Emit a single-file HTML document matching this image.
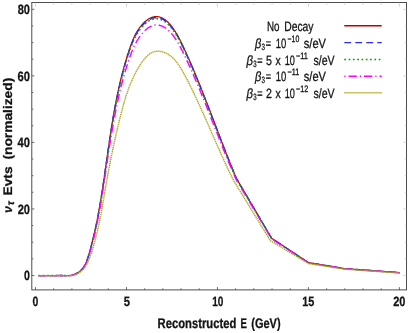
<!DOCTYPE html><html><head><meta charset="utf-8"><style>html,body{margin:0;padding:0;background:#fff}svg{display:block}text{font-family:"Liberation Sans",sans-serif;text-rendering:geometricPrecision}</style></head><body>
<svg width="409" height="333" viewBox="0 0 409 333">
<rect width="409" height="333" fill="#fff"/>
<path d="M38.5,275.60 L46.0,275.60 L55.0,275.60 L62.0,275.50 L62.9,275.60 L63.9,275.60 L64.9,275.60 L65.9,275.60 L66.9,275.60 L68.0,275.60 L69.1,275.60 L70.1,275.60 L71.2,275.41 L72.2,275.14 L73.3,274.83 L74.3,274.47 L75.3,274.06 L76.2,273.61 L77.2,273.13 L78.1,272.60 L78.9,272.04 L79.7,271.45 L80.5,270.82 L81.2,270.15 L81.8,269.46 L82.5,268.74 L83.0,267.99 L83.6,267.22 L84.1,266.42 L84.6,265.61 L85.1,264.77 L85.5,263.91 L85.9,263.03 L86.3,262.14 L86.7,261.23 L87.0,260.32 L87.3,259.39 L87.7,258.45 L88.0,257.50 L88.3,256.55 L88.5,255.59 L88.8,254.63 L89.1,253.67 L89.4,252.71 L89.7,251.75 L89.9,250.78 L90.2,249.82 L90.5,248.85 L90.7,247.89 L91.0,246.92 L91.2,245.95 L91.5,244.98 L91.7,244.01 L92.0,243.04 L92.2,242.07 L92.5,241.10 L92.7,240.13 L93.0,239.16 L93.2,238.18 L93.4,237.21 L93.7,236.23 L93.9,235.25 L94.1,234.28 L94.3,233.30 L94.6,232.32 L94.8,231.34 L95.0,230.36 L95.2,229.38 L95.4,228.40 L95.6,227.42 L95.8,226.44 L96.1,225.46 L96.3,224.47 L96.5,223.49 L96.7,222.51 L96.9,221.52 L97.1,220.54 L97.3,219.55 L97.4,218.57 L97.6,217.58 L97.8,216.59 L98.0,215.61 L98.2,214.62 L98.4,213.63 L98.6,212.64 L98.7,211.65 L98.9,210.66 L99.1,209.67 L99.3,208.68 L99.5,207.69 L99.6,206.70 L99.8,205.71 L100.0,204.72 L100.1,203.73 L100.3,202.74 L100.5,201.75 L100.6,200.76 L100.8,199.76 L101.0,198.77 L101.1,197.78 L101.3,196.79 L101.4,195.79 L101.6,194.80 L101.8,193.81 L101.9,192.81 L102.1,191.82 L102.2,190.83 L102.4,189.83 L102.5,188.84 L102.7,187.84 L102.8,186.85 L103.0,185.86 L103.1,184.86 L103.3,183.87 L103.4,182.88 L103.6,181.88 L103.7,180.89 L103.9,179.89 L104.0,178.90 L104.2,177.91 L104.3,176.91 L104.4,175.92 L104.6,174.92 L104.7,173.93 L104.9,172.94 L105.0,171.94 L105.2,170.95 L105.3,169.96 L105.4,168.96 L105.6,167.97 L105.7,166.98 L105.9,165.98 L106.0,164.99 L106.1,164.00 L106.3,163.01 L106.4,162.01 L106.6,161.02 L106.7,160.03 L106.8,159.03 L107.0,158.04 L107.1,157.05 L107.3,156.06 L107.4,155.07 L107.5,154.07 L107.7,153.08 L107.8,152.09 L108.0,151.10 L108.1,150.11 L108.2,149.12 L108.4,148.12 L108.5,147.13 L108.7,146.14 L108.8,145.15 L109.0,144.16 L109.1,143.17 L109.3,142.18 L109.4,141.19 L109.5,140.20 L109.7,139.21 L109.8,138.22 L110.0,137.23 L110.1,136.24 L110.3,135.25 L110.4,134.26 L110.6,133.27 L110.7,132.28 L110.9,131.30 L111.0,130.31 L111.2,129.32 L111.3,128.33 L111.5,127.34 L111.7,126.36 L111.8,125.37 L112.0,124.38 L112.1,123.39 L112.3,122.41 L112.5,121.42 L112.6,120.43 L112.8,119.45 L112.9,118.46 L113.1,117.48 L113.3,116.49 L113.4,115.51 L113.6,114.52 L113.8,113.54 L114.0,112.55 L114.1,111.57 L114.3,110.58 L114.5,109.60 L114.7,108.62 L114.8,107.63 L115.0,106.65 L115.2,105.67 L115.4,104.69 L115.6,103.70 L115.8,102.72 L116.0,101.74 L116.1,100.76 L116.3,99.78 L116.5,98.80 L116.7,97.82 L116.9,96.84 L117.1,95.86 L117.3,94.88 L117.5,93.90 L117.7,92.92 L117.9,91.94 L118.2,90.96 L118.4,89.99 L118.6,89.01 L118.8,88.03 L119.0,87.05 L119.2,86.08 L119.5,85.10 L119.7,84.12 L119.9,83.15 L120.1,82.17 L120.4,81.20 L120.6,80.22 L120.8,79.25 L121.1,78.28 L121.3,77.30 L121.5,76.33 L121.8,75.36 L122.0,74.39 L122.3,73.41 L122.5,72.44 L122.8,71.47 L123.1,70.50 L123.3,69.53 L123.6,68.56 L123.8,67.59 L124.1,66.62 L124.4,65.65 L124.7,64.68 L124.9,63.72 L125.2,62.75 L125.5,61.78 L125.8,60.81 L126.1,59.85 L126.4,58.88 L126.7,57.92 L126.9,56.95 L127.2,55.99 L127.5,55.02 L127.9,54.06 L128.2,53.09 L128.5,52.13 L128.8,51.17 L129.1,50.21 L129.4,49.25 L129.8,48.29 L130.1,47.33 L130.4,46.37 L130.8,45.41 L131.1,44.46 L131.5,43.51 L131.8,42.56 L132.2,41.62 L132.6,40.68 L133.0,39.74 L133.4,38.81 L133.8,37.89 L134.2,36.97 L134.6,36.06 L135.1,35.16 L135.5,34.26 L136.0,33.37 L136.5,32.49 L137.0,31.62 L137.5,30.76 L138.1,29.90 L138.7,29.06 L139.2,28.23 L139.8,27.41 L140.5,26.60 L141.1,25.80 L141.8,25.02 L142.5,24.25 L143.2,23.50 L143.9,22.77 L144.6,22.06 L145.4,21.39 L146.2,20.75 L147.0,20.14 L147.8,19.56 L148.6,19.03 L149.4,18.55 L150.3,18.11 L151.1,17.72 L152.0,17.38 L152.9,17.10 L153.8,16.89 L154.7,16.73 L155.5,16.64 L156.4,16.62 L157.4,16.67 L158.3,16.79 L159.2,16.98 L160.1,17.22 L160.9,17.52 L161.8,17.88 L162.7,18.30 L163.5,18.76 L164.4,19.27 L165.2,19.83 L165.9,20.43 L166.7,21.06 L167.4,21.73 L168.2,22.43 L168.8,23.15 L169.5,23.89 L170.2,24.65 L170.8,25.42 L171.5,26.20 L172.1,26.99 L172.7,27.79 L173.3,28.61 L173.8,29.43 L174.4,30.26 L175.0,31.10 L175.5,31.95 L176.0,32.81 L176.6,33.67 L177.1,34.55 L177.6,35.42 L178.1,36.31 L178.6,37.20 L179.0,38.10 L179.5,39.00 L180.0,39.90 L180.4,40.81 L180.9,41.72 L181.3,42.64 L181.8,43.56 L182.2,44.48 L182.7,45.40 L183.1,46.32 L183.5,47.25 L184.0,48.17 L184.4,49.10 L184.8,50.02 L185.2,50.95 L185.7,51.87 L186.1,52.80 L186.5,53.72 L186.9,54.65 L187.3,55.58 L187.7,56.50 L188.2,57.43 L188.6,58.35 L189.0,59.28 L189.4,60.20 L189.8,61.13 L190.2,62.06 L190.6,62.98 L191.0,63.91 L191.4,64.84 L191.8,65.76 L192.2,66.69 L192.6,67.62 L193.0,68.54 L193.4,69.47 L193.8,70.40 L194.2,71.32 L194.5,72.25 L194.9,73.18 L195.3,74.11 L195.7,75.03 L196.1,75.96 L196.5,76.89 L196.9,77.82 L197.2,78.74 L197.6,79.67 L198.0,80.60 L198.4,81.53 L198.8,82.46 L199.1,83.38 L199.5,84.31 L199.9,85.24 L200.3,86.17 L200.6,87.10 L201.0,88.03 L201.4,88.96 L201.7,89.88 L202.1,90.81 L202.5,91.74 L202.8,92.67 L203.2,93.60 L203.6,94.53 L203.9,95.46 L204.3,96.39 L204.7,97.32 L205.0,98.25 L205.4,99.18 L205.8,100.11 L206.1,101.04 L206.5,101.97 L206.9,102.90 L207.2,103.83 L207.6,104.76 L207.9,105.69 L208.3,106.62 L208.6,107.55 L209.0,108.48 L209.4,109.41 L209.7,110.34 L210.1,111.27 L210.4,112.20 L210.8,113.13 L211.2,114.06 L211.5,114.99 L211.9,115.92 L212.2,116.85 L212.6,117.78 L212.9,118.71 L213.3,119.64 L213.6,120.58 L214.0,121.51 L214.4,122.44 L214.7,123.37 L215.1,124.30 L215.4,125.23 L215.8,126.16 L216.1,127.10 L216.5,128.03 L216.8,128.96 L217.2,129.89 L217.6,130.82 L217.9,131.75 L218.3,132.69 L218.6,133.62 L219.0,134.55 L219.3,135.48 L219.7,136.41 L220.0,137.35 L220.4,138.28 L220.8,139.21 L221.1,140.14 L221.5,141.07 L221.8,142.01 L222.2,142.94 L222.6,143.87 L222.9,144.80 L223.3,145.74 L223.6,146.67 L224.0,147.60 L224.4,148.53 L224.7,149.47 L225.1,150.40 L225.5,151.33 L225.8,152.27 L226.2,153.20 L226.6,154.13 L226.9,155.06 L227.3,156.00 L227.7,156.93 L228.0,157.86 L228.4,158.80 L228.8,159.73 L229.1,160.66 L229.5,161.60 L229.9,162.53 L230.3,163.46 L230.6,164.40 L231.0,165.33 L231.4,166.26 L231.8,167.20 L232.2,168.13 L232.5,169.06 L232.9,170.00 L233.3,170.93 L233.7,171.86 L234.1,172.80 L234.5,173.73 L234.8,174.67 L235.2,175.60 L235.6,176.53 L236.0,177.47 L236.4,178.40 L271.6,238.20 L308.3,262.60 L344.3,268.60 L399.6,272.70" fill="none" stroke="#c00000" stroke-width="1.25" stroke-linejoin="round"/>
<path d="M38.5,275.60 L39.0,275.60 L39.5,275.60 L40.0,275.60 L40.5,275.60 L41.0,275.60 L41.5,275.60 L42.0,275.60 L42.5,275.60 L43.0,275.60 L43.5,275.60 L44.0,275.60 L44.5,275.60 L45.0,275.60 L45.5,275.60 L46.0,275.60 L46.5,275.60 L47.0,275.60 L47.5,275.60 L48.0,275.60 L48.5,275.60 L49.0,275.60 L49.5,275.60 L50.0,275.60 L50.5,275.60 L51.0,275.60 L51.5,275.60 L52.0,275.60 L52.5,275.60 L53.0,275.60 L53.5,275.60 L54.0,275.60 L54.5,275.60 L55.0,275.60 L55.5,275.59 L56.0,275.59 L56.5,275.58 L57.0,275.57 L57.5,275.56 L58.0,275.56 L58.5,275.55 L59.0,275.54 L59.5,275.54 L60.0,275.53 L60.5,275.52 L61.0,275.51 L61.5,275.51 L62.0,275.50 L62.5,275.55 L63.0,275.60 L63.5,275.60 L64.0,275.60 L64.5,275.60 L65.0,275.60 L65.5,275.60 L66.0,275.60 L66.5,275.60 L67.0,275.60 L67.5,275.60 L68.0,275.60 L68.5,275.60 L69.0,275.60 L69.5,275.60 L70.0,275.60 L70.5,275.54 L71.0,275.45 L71.5,275.34 L72.0,275.22 L72.5,275.08 L73.0,274.92 L73.5,274.76 L74.0,274.58 L74.5,274.40 L75.0,274.19 L75.5,273.98 L76.0,273.75 L76.5,273.50 L77.0,273.24 L77.5,272.96 L78.0,272.67 L78.5,272.34 L79.0,272.00 L79.5,271.63 L80.0,271.23 L80.5,270.81 L81.0,270.34 L81.5,269.84 L82.0,269.30 L82.5,268.72 L83.0,268.09 L83.5,267.40 L84.0,266.66 L84.5,265.84 L85.0,264.95 L85.5,263.98 L86.0,262.90 L86.5,261.72 L87.0,260.44 L87.5,259.03 L88.0,257.52 L88.5,255.90 L89.0,254.22 L89.5,252.49 L90.0,250.73 L90.5,248.93 L91.0,247.08 L91.5,245.20 L92.0,243.27 L92.5,241.29 L93.0,239.27 L93.5,237.20 L94.0,235.08 L94.5,232.90 L95.0,230.68 L95.5,228.39 L96.0,226.05 L96.5,223.64 L97.0,221.17 L97.5,218.64 L98.0,216.04 L98.5,213.37 L99.0,210.64 L99.5,207.83 L100.0,204.95 L100.5,202.00 L101.0,198.98 L101.5,195.89 L102.0,192.73 L102.5,189.51 L103.0,186.23 L103.5,182.89 L104.0,179.50 L104.5,176.07 L105.0,172.61 L105.5,169.12 L106.0,165.61 L106.5,162.08 L107.0,158.56 L107.5,155.05 L108.0,151.55 L108.5,148.08 L109.0,144.64 L109.5,141.25 L110.0,137.90 L110.5,134.60 L111.0,131.36 L111.5,128.18 L112.0,125.06 L112.5,122.01 L113.0,119.02 L113.5,116.10 L114.0,113.25 L114.5,110.46 L115.0,107.74 L115.5,105.08 L116.0,102.49 L116.5,99.95 L117.0,97.48 L117.5,95.06 L118.0,92.70 L118.5,90.39 L119.0,88.14 L119.5,85.94 L120.0,83.78 L120.5,81.67 L121.0,79.61 L121.5,77.59 L122.0,75.61 L122.5,73.68 L123.0,71.78 L123.5,69.92 L124.0,68.10 L124.5,66.31 L125.0,64.56 L125.5,62.84 L126.0,61.15 L126.5,59.50 L127.0,57.87 L127.5,56.27 L128.0,54.70 L128.5,53.16 L129.0,51.64 L129.5,50.15 L130.0,48.69 L130.5,47.26 L131.0,45.88 L131.5,44.53 L132.0,43.24 L132.5,41.99 L133.0,40.79 L133.5,39.64 L134.0,38.54 L134.5,37.48 L135.0,36.46 L135.5,35.49 L136.0,34.56 L136.5,33.66 L137.0,32.81 L137.5,31.99 L138.0,31.20 L138.5,30.44 L139.0,29.71 L139.5,29.01 L140.0,28.34 L140.5,27.69 L141.0,27.06 L141.5,26.46 L142.0,25.88 L142.5,25.32 L143.0,24.79 L143.5,24.27 L144.0,23.77 L144.5,23.29 L145.0,22.84 L145.5,22.40 L146.0,21.98 L146.5,21.58 L147.0,21.20 L147.5,20.84 L148.0,20.50 L148.5,20.17 L149.0,19.87 L149.5,19.58 L150.0,19.32 L150.5,19.07 L151.0,18.84 L151.5,18.64 L152.0,18.44 L152.5,18.28 L153.0,18.13 L153.5,18.00 L154.0,17.89 L154.5,17.80 L155.0,17.74 L155.5,17.69 L156.0,17.67 L156.5,17.67 L157.0,17.69 L157.5,17.73 L158.0,17.79 L158.5,17.87 L159.0,17.97 L159.5,18.10 L160.0,18.23 L160.5,18.39 L161.0,18.57 L161.5,18.77 L162.0,18.98 L162.5,19.22 L163.0,19.48 L163.5,19.75 L164.0,20.05 L164.5,20.37 L165.0,20.71 L165.5,21.07 L166.0,21.45 L166.5,21.87 L167.0,22.30 L167.5,22.76 L168.0,23.24 L168.5,23.74 L169.0,24.26 L169.5,24.81 L170.0,25.37 L170.5,25.95 L171.0,26.55 L171.5,27.16 L172.0,27.80 L172.5,28.46 L173.0,29.13 L173.5,29.82 L174.0,30.54 L174.5,31.27 L175.0,32.02 L175.5,32.80 L176.0,33.60 L176.5,34.42 L177.0,35.26 L177.5,36.12 L178.0,37.01 L178.5,37.91 L179.0,38.84 L179.5,39.79 L180.0,40.75 L180.5,41.74 L181.0,42.74 L181.5,43.76 L182.0,44.79 L182.5,45.84 L183.0,46.89 L183.5,47.96 L184.0,49.03 L184.5,50.11 L185.0,51.20 L185.5,52.29 L186.0,53.38 L186.5,54.48 L187.0,55.59 L187.5,56.70 L188.0,57.82 L188.5,58.94 L189.0,60.07 L189.5,61.20 L190.0,62.34 L190.5,63.48 L191.0,64.63 L191.5,65.79 L192.0,66.95 L192.5,68.11 L193.0,69.28 L193.5,70.46 L194.0,71.64 L194.5,72.82 L195.0,74.01 L195.5,75.21 L196.0,76.40 L196.5,77.61 L197.0,78.82 L197.5,80.03 L198.0,81.25 L198.5,82.47 L199.0,83.70 L199.5,84.93 L200.0,86.16 L200.5,87.40 L201.0,88.65 L201.5,89.90 L202.0,91.15 L202.5,92.40 L203.0,93.66 L203.5,94.92 L204.0,96.19 L204.5,97.46 L205.0,98.73 L205.5,100.00 L206.0,101.28 L206.5,102.56 L207.0,103.85 L207.5,105.13 L208.0,106.42 L208.5,107.71 L209.0,109.00 L209.5,110.30 L210.0,111.59 L210.5,112.89 L211.0,114.19 L211.5,115.49 L212.0,116.79 L212.5,118.09 L213.0,119.40 L213.5,120.70 L214.0,122.01 L214.5,123.31 L215.0,124.62 L215.5,125.92 L216.0,127.23 L216.5,128.53 L217.0,129.84 L217.5,131.14 L218.0,132.45 L218.5,133.75 L219.0,135.05 L219.5,136.35 L220.0,137.65 L220.5,138.95 L221.0,140.24 L221.5,141.53 L222.0,142.83 L222.5,144.12 L223.0,145.40 L223.5,146.69 L224.0,147.97 L224.5,149.25 L225.0,150.53 L225.5,151.80 L226.0,153.07 L226.5,154.34 L227.0,155.60 L227.5,156.86 L228.0,158.12 L228.5,159.37 L229.0,160.62 L229.5,161.87 L230.0,163.11 L230.5,164.35 L231.0,165.59 L231.5,166.82 L232.0,168.04 L232.5,169.26 L233.0,170.48 L233.5,171.69 L234.0,172.90 L234.5,174.09 L235.0,175.29 L235.5,176.48 L236.4,178.60 L271.6,238.30 L308.3,262.63 L344.3,268.62 L399.6,272.71" fill="none" stroke="#2a2aff" stroke-width="1.4" stroke-dasharray="6.8,4.2" stroke-linejoin="round"/>
<path d="M38.5,275.60 L39.0,275.60 L39.5,275.60 L40.0,275.60 L40.5,275.60 L41.0,275.60 L41.5,275.60 L42.0,275.60 L42.5,275.60 L43.0,275.60 L43.5,275.60 L44.0,275.60 L44.5,275.60 L45.0,275.60 L45.5,275.60 L46.0,275.60 L46.5,275.60 L47.0,275.60 L47.5,275.60 L48.0,275.60 L48.5,275.60 L49.0,275.60 L49.5,275.60 L50.0,275.60 L50.5,275.60 L51.0,275.60 L51.5,275.60 L52.0,275.60 L52.5,275.60 L53.0,275.60 L53.5,275.60 L54.0,275.60 L54.5,275.60 L55.0,275.60 L55.5,275.59 L56.0,275.59 L56.5,275.58 L57.0,275.57 L57.5,275.56 L58.0,275.56 L58.5,275.55 L59.0,275.54 L59.5,275.54 L60.0,275.53 L60.5,275.52 L61.0,275.52 L61.5,275.51 L62.0,275.50 L62.5,275.55 L63.0,275.60 L63.5,275.60 L64.0,275.60 L64.5,275.60 L65.0,275.60 L65.5,275.60 L66.0,275.60 L66.5,275.60 L67.0,275.60 L67.5,275.60 L68.0,275.60 L68.5,275.60 L69.0,275.60 L69.5,275.60 L70.0,275.60 L70.5,275.54 L71.0,275.46 L71.5,275.35 L72.0,275.23 L72.5,275.09 L73.0,274.94 L73.5,274.78 L74.0,274.60 L74.5,274.41 L75.0,274.21 L75.5,274.00 L76.0,273.77 L76.5,273.52 L77.0,273.26 L77.5,272.98 L78.0,272.69 L78.5,272.36 L79.0,272.03 L79.5,271.65 L80.0,271.26 L80.5,270.84 L81.0,270.37 L81.5,269.88 L82.0,269.34 L82.5,268.77 L83.0,268.14 L83.5,267.45 L84.0,266.71 L84.5,265.90 L85.0,265.02 L85.5,264.05 L86.0,262.99 L86.5,261.82 L87.0,260.55 L87.5,259.15 L88.0,257.66 L88.5,256.05 L89.0,254.39 L89.5,252.67 L90.0,250.92 L90.5,249.13 L91.0,247.30 L91.5,245.42 L92.0,243.51 L92.5,241.54 L93.0,239.53 L93.5,237.47 L94.0,235.36 L94.5,233.20 L95.0,230.99 L95.5,228.71 L96.0,226.38 L96.5,223.99 L97.0,221.53 L97.5,219.01 L98.0,216.42 L98.5,213.77 L99.0,211.04 L99.5,208.25 L100.0,205.38 L100.5,202.44 L101.0,199.43 L101.5,196.36 L102.0,193.21 L102.5,190.00 L103.0,186.73 L103.5,183.41 L104.0,180.04 L104.5,176.62 L105.0,173.17 L105.5,169.70 L106.0,166.21 L106.5,162.71 L107.0,159.21 L107.5,155.72 L108.0,152.24 L108.5,148.79 L109.0,145.38 L109.5,142.01 L110.0,138.68 L110.5,135.41 L111.0,132.19 L111.5,129.03 L112.0,125.93 L112.5,122.90 L113.0,119.93 L113.5,117.03 L114.0,114.19 L114.5,111.42 L115.0,108.71 L115.5,106.06 L116.0,103.48 L116.5,100.96 L117.0,98.49 L117.5,96.08 L118.0,93.73 L118.5,91.43 L119.0,89.18 L119.5,86.99 L120.0,84.84 L120.5,82.73 L121.0,80.67 L121.5,78.65 L122.0,76.68 L122.5,74.74 L123.0,72.85 L123.5,70.99 L124.0,69.17 L124.5,67.39 L125.0,65.64 L125.5,63.92 L126.0,62.23 L126.5,60.58 L127.0,58.96 L127.5,57.37 L128.0,55.80 L128.5,54.26 L129.0,52.75 L129.5,51.27 L130.0,49.81 L130.5,48.39 L131.0,47.01 L131.5,45.67 L132.0,44.38 L132.5,43.14 L133.0,41.94 L133.5,40.79 L134.0,39.69 L134.5,38.63 L135.0,37.62 L135.5,36.65 L136.0,35.71 L136.5,34.82 L137.0,33.96 L137.5,33.14 L138.0,32.35 L138.5,31.59 L139.0,30.86 L139.5,30.15 L140.0,29.48 L140.5,28.82 L141.0,28.19 L141.5,27.59 L142.0,27.00 L142.5,26.44 L143.0,25.90 L143.5,25.38 L144.0,24.87 L144.5,24.39 L145.0,23.93 L145.5,23.49 L146.0,23.07 L146.5,22.67 L147.0,22.28 L147.5,21.92 L148.0,21.57 L148.5,21.24 L149.0,20.94 L149.5,20.65 L150.0,20.38 L150.5,20.13 L151.0,19.90 L151.5,19.69 L152.0,19.50 L152.5,19.33 L153.0,19.18 L153.5,19.05 L154.0,18.94 L154.5,18.85 L155.0,18.79 L155.5,18.73 L156.0,18.72 L156.5,18.71 L157.0,18.73 L157.5,18.77 L158.0,18.83 L158.5,18.91 L159.0,19.00 L159.5,19.12 L160.0,19.26 L160.5,19.42 L161.0,19.59 L161.5,19.79 L162.0,20.00 L162.5,20.23 L163.0,20.48 L163.5,20.75 L164.0,21.05 L164.5,21.36 L165.0,21.70 L165.5,22.06 L166.0,22.44 L166.5,22.84 L167.0,23.27 L167.5,23.72 L168.0,24.20 L168.5,24.69 L169.0,25.21 L169.5,25.74 L170.0,26.30 L170.5,26.88 L171.0,27.47 L171.5,28.08 L172.0,28.71 L172.5,29.36 L173.0,30.02 L173.5,30.71 L174.0,31.42 L174.5,32.15 L175.0,32.89 L175.5,33.66 L176.0,34.46 L176.5,35.27 L177.0,36.11 L177.5,36.96 L178.0,37.84 L178.5,38.74 L179.0,39.66 L179.5,40.60 L180.0,41.56 L180.5,42.54 L181.0,43.54 L181.5,44.55 L182.0,45.58 L182.5,46.62 L183.0,47.67 L183.5,48.73 L184.0,49.80 L184.5,50.87 L185.0,51.95 L185.5,53.04 L186.0,54.13 L186.5,55.23 L187.0,56.33 L187.5,57.44 L188.0,58.55 L188.5,59.67 L189.0,60.79 L189.5,61.92 L190.0,63.05 L190.5,64.19 L191.0,65.34 L191.5,66.49 L192.0,67.64 L192.5,68.80 L193.0,69.97 L193.5,71.14 L194.0,72.31 L194.5,73.50 L195.0,74.68 L195.5,75.87 L196.0,77.07 L196.5,78.27 L197.0,79.47 L197.5,80.68 L198.0,81.89 L198.5,83.11 L199.0,84.33 L199.5,85.56 L200.0,86.79 L200.5,88.03 L201.0,89.27 L201.5,90.51 L202.0,91.76 L202.5,93.01 L203.0,94.26 L203.5,95.52 L204.0,96.78 L204.5,98.04 L205.0,99.31 L205.5,100.58 L206.0,101.85 L206.5,103.13 L207.0,104.41 L207.5,105.69 L208.0,106.97 L208.5,108.26 L209.0,109.55 L209.5,110.84 L210.0,112.13 L210.5,113.42 L211.0,114.71 L211.5,116.01 L212.0,117.31 L212.5,118.60 L213.0,119.90 L213.5,121.20 L214.0,122.50 L214.5,123.80 L215.0,125.10 L215.5,126.40 L216.0,127.70 L216.5,129.00 L217.0,130.30 L217.5,131.60 L218.0,132.90 L218.5,134.19 L219.0,135.49 L219.5,136.79 L220.0,138.08 L220.5,139.37 L221.0,140.66 L221.5,141.95 L222.0,143.23 L222.5,144.52 L223.0,145.80 L223.5,147.08 L224.0,148.35 L224.5,149.63 L225.0,150.90 L225.5,152.17 L226.0,153.43 L226.5,154.69 L227.0,155.95 L227.5,157.21 L228.0,158.46 L228.5,159.71 L229.0,160.95 L229.5,162.19 L230.0,163.43 L230.5,164.66 L231.0,165.89 L231.5,167.11 L232.0,168.33 L232.5,169.54 L233.0,170.76 L233.5,171.96 L234.0,173.15 L234.5,174.34 L235.0,175.52 L235.5,176.70 L236.4,178.81 L271.6,238.39 L308.3,262.65 L344.3,268.64 L399.6,272.72" fill="none" stroke="#00a000" stroke-width="1.5" stroke-dasharray="1.7,2.6" stroke-linejoin="round"/>
<path d="M38.5,275.60 L39.0,275.60 L39.5,275.60 L40.0,275.60 L40.5,275.60 L41.0,275.60 L41.5,275.60 L42.0,275.60 L42.5,275.60 L43.0,275.60 L43.5,275.60 L44.0,275.60 L44.5,275.60 L45.0,275.60 L45.5,275.60 L46.0,275.60 L46.5,275.60 L47.0,275.60 L47.5,275.60 L48.0,275.60 L48.5,275.60 L49.0,275.60 L49.5,275.60 L50.0,275.60 L50.5,275.60 L51.0,275.60 L51.5,275.60 L52.0,275.60 L52.5,275.60 L53.0,275.60 L53.5,275.60 L54.0,275.60 L54.5,275.60 L55.0,275.60 L55.5,275.59 L56.0,275.59 L56.5,275.58 L57.0,275.57 L57.5,275.57 L58.0,275.56 L58.5,275.56 L59.0,275.55 L59.5,275.54 L60.0,275.54 L60.5,275.53 L61.0,275.52 L61.5,275.52 L62.0,275.51 L62.5,275.56 L63.0,275.60 L63.5,275.60 L64.0,275.60 L64.5,275.60 L65.0,275.60 L65.5,275.60 L66.0,275.60 L66.5,275.60 L67.0,275.60 L67.5,275.60 L68.0,275.60 L68.5,275.60 L69.0,275.60 L69.5,275.60 L70.0,275.60 L70.5,275.55 L71.0,275.48 L71.5,275.40 L72.0,275.30 L72.5,275.18 L73.0,275.03 L73.5,274.87 L74.0,274.70 L74.5,274.51 L75.0,274.32 L75.5,274.11 L76.0,273.88 L76.5,273.64 L77.0,273.39 L77.5,273.11 L78.0,272.83 L78.5,272.51 L79.0,272.18 L79.5,271.82 L80.0,271.43 L80.5,271.02 L81.0,270.57 L81.5,270.09 L82.0,269.57 L82.5,269.02 L83.0,268.41 L83.5,267.76 L84.0,267.04 L84.5,266.27 L85.0,265.42 L85.5,264.51 L86.0,263.49 L86.5,262.39 L87.0,261.19 L87.5,259.88 L88.0,258.47 L88.5,256.96 L89.0,255.38 L89.5,253.75 L90.0,252.08 L90.5,250.35 L91.0,248.59 L91.5,246.78 L92.0,244.94 L92.5,243.04 L93.0,241.10 L93.5,239.12 L94.0,237.08 L94.5,234.99 L95.0,232.84 L95.5,230.64 L96.0,228.38 L96.5,226.06 L97.0,223.68 L97.5,221.23 L98.0,218.72 L98.5,216.13 L99.0,213.48 L99.5,210.76 L100.0,207.96 L100.5,205.09 L101.0,202.16 L101.5,199.15 L102.0,196.08 L102.5,192.95 L103.0,189.76 L103.5,186.52 L104.0,183.23 L104.5,179.91 L105.0,176.56 L105.5,173.20 L106.0,169.82 L106.5,166.44 L107.0,163.07 L107.5,159.71 L108.0,156.38 L108.5,153.07 L109.0,149.80 L109.5,146.57 L110.0,143.38 L110.5,140.25 L111.0,137.16 L111.5,134.13 L112.0,131.15 L112.5,128.24 L113.0,125.38 L113.5,122.58 L114.0,119.84 L114.5,117.15 L115.0,114.53 L115.5,111.96 L116.0,109.45 L116.5,106.99 L117.0,104.58 L117.5,102.23 L118.0,99.92 L118.5,97.66 L119.0,95.45 L119.5,93.29 L120.0,91.16 L120.5,89.08 L121.0,87.04 L121.5,85.04 L122.0,83.08 L122.5,81.16 L123.0,79.27 L123.5,77.42 L124.0,75.61 L124.5,73.84 L125.0,72.10 L125.5,70.40 L126.0,68.73 L126.5,67.10 L127.0,65.50 L127.5,63.93 L128.0,62.39 L128.5,60.88 L129.0,59.40 L129.5,57.95 L130.0,56.53 L130.5,55.14 L131.0,53.79 L131.5,52.49 L132.0,51.22 L132.5,50.00 L133.0,48.83 L133.5,47.70 L134.0,46.61 L134.5,45.57 L135.0,44.56 L135.5,43.59 L136.0,42.65 L136.5,41.75 L137.0,40.89 L137.5,40.05 L138.0,39.25 L138.5,38.47 L139.0,37.73 L139.5,37.00 L140.0,36.30 L140.5,35.62 L141.0,34.97 L141.5,34.34 L142.0,33.73 L142.5,33.14 L143.0,32.57 L143.5,32.03 L144.0,31.50 L144.5,30.99 L145.0,30.51 L145.5,30.04 L146.0,29.59 L146.5,29.17 L147.0,28.76 L147.5,28.38 L148.0,28.02 L148.5,27.67 L149.0,27.35 L149.5,27.05 L150.0,26.77 L150.5,26.50 L151.0,26.26 L151.5,26.04 L152.0,25.83 L152.5,25.65 L153.0,25.49 L153.5,25.35 L154.0,25.23 L154.5,25.13 L155.0,25.06 L155.5,25.00 L156.0,24.97 L156.5,24.95 L157.0,24.96 L157.5,24.99 L158.0,25.04 L158.5,25.10 L159.0,25.18 L159.5,25.29 L160.0,25.41 L160.5,25.55 L161.0,25.71 L161.5,25.89 L162.0,26.08 L162.5,26.29 L163.0,26.52 L163.5,26.77 L164.0,27.04 L164.5,27.33 L165.0,27.64 L165.5,27.97 L166.0,28.32 L166.5,28.70 L167.0,29.09 L167.5,29.51 L168.0,29.95 L168.5,30.41 L169.0,30.88 L169.5,31.38 L170.0,31.90 L170.5,32.44 L171.0,32.99 L171.5,33.56 L172.0,34.15 L172.5,34.76 L173.0,35.39 L173.5,36.05 L174.0,36.71 L174.5,37.41 L175.0,38.12 L175.5,38.85 L176.0,39.61 L176.5,40.38 L177.0,41.18 L177.5,42.01 L178.0,42.85 L178.5,43.71 L179.0,44.60 L179.5,45.50 L180.0,46.43 L180.5,47.37 L181.0,48.34 L181.5,49.31 L182.0,50.31 L182.5,51.31 L183.0,52.33 L183.5,53.36 L184.0,54.40 L184.5,55.44 L185.0,56.49 L185.5,57.55 L186.0,58.61 L186.5,59.68 L187.0,60.76 L187.5,61.84 L188.0,62.93 L188.5,64.02 L189.0,65.12 L189.5,66.22 L190.0,67.33 L190.5,68.44 L191.0,69.56 L191.5,70.69 L192.0,71.82 L192.5,72.95 L193.0,74.09 L193.5,75.23 L194.0,76.38 L194.5,77.54 L195.0,78.70 L195.5,79.86 L196.0,81.03 L196.5,82.21 L197.0,83.38 L197.5,84.57 L198.0,85.76 L198.5,86.95 L199.0,88.14 L199.5,89.34 L200.0,90.55 L200.5,91.76 L201.0,92.97 L201.5,94.19 L202.0,95.41 L202.5,96.63 L203.0,97.86 L203.5,99.09 L204.0,100.32 L204.5,101.56 L205.0,102.80 L205.5,104.04 L206.0,105.29 L206.5,106.53 L207.0,107.79 L207.5,109.04 L208.0,110.29 L208.5,111.55 L209.0,112.81 L209.5,114.07 L210.0,115.33 L210.5,116.60 L211.0,117.86 L211.5,119.13 L212.0,120.39 L212.5,121.66 L213.0,122.93 L213.5,124.20 L214.0,125.47 L214.5,126.74 L215.0,128.01 L215.5,129.28 L216.0,130.54 L216.5,131.81 L217.0,133.08 L217.5,134.35 L218.0,135.61 L218.5,136.88 L219.0,138.14 L219.5,139.40 L220.0,140.66 L220.5,141.92 L221.0,143.17 L221.5,144.43 L222.0,145.68 L222.5,146.93 L223.0,148.18 L223.5,149.42 L224.0,150.66 L224.5,151.90 L225.0,153.14 L225.5,154.37 L226.0,155.60 L226.5,156.83 L227.0,158.05 L227.5,159.27 L228.0,160.48 L228.5,161.69 L229.0,162.90 L229.5,164.11 L230.0,165.30 L230.5,166.50 L231.0,167.69 L231.5,168.88 L232.0,170.06 L232.5,171.24 L233.0,172.41 L233.5,173.58 L234.0,174.71 L234.5,175.82 L235.0,176.93 L235.5,178.04 L236.4,180.03 L271.6,238.96 L308.3,262.81 L344.3,268.74 L399.6,272.77" fill="none" stroke="#ff00ff" stroke-width="1.4" stroke-dasharray="8.3,3,1.2,3" stroke-linejoin="round"/>
<path d="M38.5,275.60 L46.0,275.60 L55.0,275.60 L62.0,275.55 L62.9,275.60 L63.9,275.60 L64.9,275.60 L65.9,275.60 L67.0,275.60 L68.0,275.60 L69.1,275.60 L70.1,275.60 L71.2,275.60 L72.2,275.60 L73.3,275.33 L74.3,275.01 L75.3,274.65 L76.3,274.25 L77.2,273.80 L78.2,273.32 L79.1,272.80 L79.9,272.25 L80.7,271.66 L81.5,271.04 L82.2,270.38 L82.9,269.70 L83.5,268.99 L84.2,268.26 L84.7,267.50 L85.3,266.71 L85.8,265.91 L86.3,265.08 L86.8,264.23 L87.3,263.37 L87.7,262.49 L88.1,261.60 L88.5,260.70 L88.9,259.78 L89.3,258.85 L89.6,257.92 L90.0,256.98 L90.3,256.03 L90.7,255.08 L91.0,254.13 L91.3,253.18 L91.6,252.22 L91.9,251.27 L92.2,250.31 L92.5,249.36 L92.8,248.40 L93.1,247.44 L93.4,246.48 L93.7,245.52 L93.9,244.56 L94.2,243.60 L94.5,242.64 L94.7,241.68 L95.0,240.71 L95.2,239.75 L95.5,238.78 L95.8,237.82 L96.0,236.85 L96.2,235.88 L96.5,234.91 L96.7,233.95 L96.9,232.98 L97.2,232.01 L97.4,231.03 L97.6,230.06 L97.8,229.09 L98.1,228.12 L98.3,227.14 L98.5,226.17 L98.7,225.19 L98.9,224.22 L99.1,223.24 L99.3,222.26 L99.5,221.29 L99.7,220.31 L99.9,219.33 L100.1,218.35 L100.3,217.37 L100.5,216.39 L100.7,215.41 L100.9,214.43 L101.0,213.45 L101.2,212.46 L101.4,211.48 L101.6,210.50 L101.8,209.51 L101.9,208.53 L102.1,207.54 L102.3,206.56 L102.5,205.57 L102.6,204.59 L102.8,203.60 L103.0,202.61 L103.2,201.63 L103.3,200.64 L103.5,199.65 L103.7,198.66 L103.8,197.67 L104.0,196.69 L104.2,195.70 L104.3,194.71 L104.5,193.72 L104.7,192.73 L104.9,191.74 L105.0,190.75 L105.2,189.75 L105.4,188.76 L105.5,187.77 L105.7,186.78 L105.9,185.79 L106.0,184.80 L106.2,183.80 L106.4,182.81 L106.6,181.82 L106.7,180.82 L106.9,179.83 L107.1,178.84 L107.3,177.85 L107.5,176.85 L107.6,175.86 L107.8,174.87 L108.0,173.87 L108.2,172.88 L108.4,171.88 L108.5,170.89 L108.7,169.90 L108.9,168.90 L109.1,167.91 L109.3,166.92 L109.5,165.92 L109.7,164.93 L109.9,163.94 L110.1,162.94 L110.3,161.95 L110.4,160.96 L110.6,159.97 L110.8,158.97 L111.0,157.98 L111.2,156.99 L111.4,156.00 L111.6,155.01 L111.8,154.02 L112.0,153.03 L112.2,152.04 L112.4,151.05 L112.6,150.06 L112.9,149.07 L113.1,148.08 L113.3,147.09 L113.5,146.10 L113.7,145.12 L113.9,144.13 L114.1,143.14 L114.3,142.16 L114.5,141.17 L114.8,140.19 L115.0,139.20 L115.2,138.22 L115.4,137.23 L115.6,136.25 L115.9,135.27 L116.1,134.29 L116.3,133.31 L116.5,132.33 L116.8,131.35 L117.0,130.37 L117.2,129.39 L117.4,128.41 L117.7,127.44 L117.9,126.46 L118.1,125.49 L118.4,124.51 L118.6,123.54 L118.8,122.57 L119.1,121.59 L119.3,120.62 L119.6,119.65 L119.8,118.68 L120.0,117.72 L120.3,116.75 L120.5,115.78 L120.8,114.82 L121.0,113.85 L121.3,112.89 L121.5,111.93 L121.8,110.97 L122.0,110.01 L122.3,109.05 L122.5,108.09 L122.8,107.13 L123.1,106.17 L123.3,105.22 L123.6,104.27 L123.9,103.31 L124.1,102.36 L124.4,101.41 L124.7,100.46 L125.0,99.52 L125.2,98.57 L125.5,97.62 L125.8,96.68 L126.1,95.74 L126.4,94.80 L126.7,93.86 L127.1,92.92 L127.4,91.98 L127.7,91.05 L128.0,90.11 L128.4,89.18 L128.7,88.25 L129.1,87.32 L129.4,86.39 L129.8,85.46 L130.1,84.54 L130.5,83.61 L130.9,82.69 L131.3,81.77 L131.7,80.85 L132.1,79.93 L132.5,79.01 L132.9,78.10 L133.3,77.19 L133.8,76.28 L134.2,75.37 L134.7,74.46 L135.2,73.55 L135.6,72.65 L136.1,71.74 L136.6,70.84 L137.1,69.94 L137.6,69.05 L138.1,68.15 L138.7,67.26 L139.2,66.36 L139.8,65.47 L140.3,64.59 L140.9,63.70 L141.5,62.83 L142.1,61.96 L142.7,61.11 L143.4,60.28 L144.0,59.46 L144.6,58.67 L145.3,57.90 L146.0,57.15 L146.7,56.44 L147.4,55.76 L148.1,55.12 L148.9,54.52 L149.6,53.96 L150.4,53.44 L151.2,52.97 L152.0,52.56 L152.9,52.19 L153.7,51.88 L154.6,51.64 L155.5,51.45 L156.4,51.32 L157.3,51.25 L158.2,51.24 L159.1,51.29 L160.1,51.39 L161.0,51.54 L162.0,51.74 L162.9,51.99 L163.8,52.29 L164.8,52.63 L165.7,53.02 L166.6,53.45 L167.5,53.92 L168.3,54.42 L169.2,54.97 L170.0,55.55 L170.8,56.16 L171.6,56.80 L172.4,57.48 L173.1,58.18 L173.8,58.90 L174.5,59.65 L175.2,60.43 L175.9,61.22 L176.5,62.03 L177.2,62.86 L177.8,63.70 L178.4,64.56 L179.0,65.42 L179.6,66.30 L180.1,67.18 L180.7,68.07 L181.2,68.96 L181.8,69.85 L182.3,70.74 L182.8,71.63 L183.3,72.52 L183.8,73.41 L184.3,74.30 L184.7,75.19 L185.2,76.07 L185.7,76.96 L186.2,77.84 L186.6,78.73 L187.1,79.62 L187.5,80.50 L188.0,81.39 L188.4,82.28 L188.9,83.17 L189.3,84.07 L189.8,84.96 L190.2,85.85 L190.7,86.75 L191.1,87.64 L191.6,88.54 L192.0,89.43 L192.4,90.33 L192.9,91.23 L193.3,92.13 L193.7,93.03 L194.2,93.93 L194.6,94.83 L195.0,95.74 L195.5,96.64 L195.9,97.54 L196.3,98.45 L196.7,99.35 L197.2,100.26 L197.6,101.17 L198.0,102.07 L198.4,102.98 L198.8,103.89 L199.3,104.80 L199.7,105.71 L200.1,106.62 L200.5,107.53 L200.9,108.44 L201.3,109.35 L201.7,110.26 L202.2,111.18 L202.6,112.09 L203.0,113.00 L203.4,113.92 L203.8,114.83 L204.2,115.75 L204.6,116.66 L205.0,117.58 L205.4,118.49 L205.8,119.41 L206.2,120.32 L206.6,121.24 L207.0,122.16 L207.5,123.07 L207.9,123.99 L208.3,124.91 L208.7,125.83 L209.1,126.74 L209.5,127.66 L209.9,128.58 L210.3,129.50 L210.7,130.42 L211.1,131.34 L211.5,132.25 L211.9,133.17 L212.3,134.09 L212.7,135.01 L213.1,135.93 L213.5,136.85 L213.9,137.77 L214.3,138.68 L214.7,139.60 L215.1,140.52 L215.5,141.44 L215.9,142.36 L216.3,143.28 L216.7,144.19 L217.1,145.11 L217.5,146.03 L217.9,146.95 L218.4,147.86 L218.8,148.78 L219.2,149.70 L219.6,150.61 L220.0,151.53 L220.4,152.45 L220.8,153.36 L221.2,154.28 L221.6,155.19 L222.0,156.11 L222.5,157.02 L222.9,157.93 L223.3,158.85 L223.7,159.76 L224.1,160.67 L224.5,161.58 L225.0,162.50 L225.4,163.41 L225.8,164.32 L226.2,165.23 L226.6,166.14 L227.1,167.05 L227.5,167.95 L227.9,168.86 L228.3,169.77 L228.8,170.68 L229.2,171.58 L229.6,172.49 L230.1,173.39 L230.5,174.29 L230.9,175.20 L231.4,176.10 L231.8,177.00 L232.3,177.90 L232.7,178.80 L233.2,179.70 L233.6,180.60 L270.3,240.60 L308.5,263.60 L344.3,269.20 L399.6,273.00" fill="none" stroke="#b0a926" stroke-width="1.45" stroke-dasharray="1.4,0.6" stroke-linejoin="round"/>
<rect x="31.8" y="2.5" width="374.7" height="287.4" fill="none" stroke="#454545" stroke-width="0.95"/>
<path d="M35.50,289.9 v-2.8 M53.70,289.9 v-1.6 M71.89,289.9 v-1.6 M90.09,289.9 v-1.6 M108.28,289.9 v-1.6 M126.47,289.9 v-2.8 M144.67,289.9 v-1.6 M162.87,289.9 v-1.6 M181.06,289.9 v-1.6 M199.25,289.9 v-1.6 M217.45,289.9 v-2.8 M235.65,289.9 v-1.6 M253.84,289.9 v-1.6 M272.03,289.9 v-1.6 M290.23,289.9 v-1.6 M308.43,289.9 v-2.8 M326.62,289.9 v-1.6 M344.81,289.9 v-1.6 M363.01,289.9 v-1.6 M381.20,289.9 v-1.6 M399.40,289.9 v-2.8 M31.8,275.50 h2.6 M31.8,258.86 h1.5 M31.8,242.22 h1.5 M31.8,225.59 h1.5 M31.8,208.95 h2.6 M31.8,192.31 h1.5 M31.8,175.68 h1.5 M31.8,159.04 h1.5 M31.8,142.40 h2.6 M31.8,125.76 h1.5 M31.8,109.12 h1.5 M31.8,92.49 h1.5 M31.8,75.85 h2.6 M31.8,59.21 h1.5 M31.8,42.57 h1.5 M31.8,25.94 h1.5 M31.8,9.30 h2.6" stroke="#454545" stroke-width="0.8" fill="none"/>
<path d="M35.50,2.5 v4.5 M53.70,2.5 v2.5 M71.89,2.5 v2.5 M90.09,2.5 v2.5 M108.28,2.5 v2.5 M126.47,2.5 v4.5 M144.67,2.5 v2.5 M162.87,2.5 v2.5 M181.06,2.5 v2.5 M199.25,2.5 v2.5 M217.45,2.5 v4.5 M235.65,2.5 v2.5 M253.84,2.5 v2.5 M272.03,2.5 v2.5 M290.23,2.5 v2.5 M308.43,2.5 v4.5 M326.62,2.5 v2.5 M344.81,2.5 v2.5 M363.01,2.5 v2.5 M381.20,2.5 v2.5 M399.40,2.5 v4.5 M406.5,275.50 h-3.4 M406.5,258.86 h-2.0 M406.5,242.22 h-2.0 M406.5,225.59 h-2.0 M406.5,208.95 h-3.4 M406.5,192.31 h-2.0 M406.5,175.68 h-2.0 M406.5,159.04 h-2.0 M406.5,142.40 h-3.4 M406.5,125.76 h-2.0 M406.5,109.12 h-2.0 M406.5,92.49 h-2.0 M406.5,75.85 h-3.4 M406.5,59.21 h-2.0 M406.5,42.57 h-2.0 M406.5,25.94 h-2.0 M406.5,9.30 h-3.4" stroke="#c0c0c0" stroke-width="0.6" fill="none"/>
<g opacity="0.99">
<text transform="translate(32.60,306.00) scale(0.7741,1.0)" font-size="13.5" font-weight="bold" stroke="#111" stroke-width="0.3" fill="#111">0</text>
<text transform="translate(123.70,306.00) scale(0.8275,1.0)" font-size="13.5" font-weight="bold" stroke="#111" stroke-width="0.3" fill="#111">5</text>
<text transform="translate(212.20,306.00) scale(0.7457,1.0)" font-size="13.5" font-weight="bold" stroke="#111" stroke-width="0.3" fill="#111">10</text>
<text transform="translate(302.20,306.00) scale(0.8057,1.0)" font-size="13.5" font-weight="bold" stroke="#111" stroke-width="0.3" fill="#111">15</text>
<text transform="translate(393.20,306.00) scale(0.8123,1.0)" font-size="13.5" font-weight="bold" stroke="#111" stroke-width="0.3" fill="#111">20</text>
<text transform="translate(24.00,280.25) scale(0.7875,1.0)" font-size="13.5" font-weight="bold" stroke="#111" stroke-width="0.3" fill="#111">0</text>
<text transform="translate(17.70,213.70) scale(0.8190,1.0)" font-size="13.5" font-weight="bold" stroke="#111" stroke-width="0.3" fill="#111">20</text>
<text transform="translate(17.60,147.15) scale(0.8256,1.0)" font-size="13.5" font-weight="bold" stroke="#111" stroke-width="0.3" fill="#111">40</text>
<text transform="translate(17.50,80.60) scale(0.8323,1.0)" font-size="13.5" font-weight="bold" stroke="#111" stroke-width="0.3" fill="#111">60</text>
<text transform="translate(17.70,14.05) scale(0.8190,1.0)" font-size="13.5" font-weight="bold" stroke="#111" stroke-width="0.3" fill="#111">80</text>
<text transform="translate(157.60,328.00) scale(0.8028,1.0)" font-size="14.0" font-weight="bold" stroke="#111" stroke-width="0.3" fill="#111">Reconstructed</text>
<text transform="translate(240.50,328.00) scale(0.6849,1.0)" font-size="14.0" font-weight="bold" stroke="#111" stroke-width="0.3" fill="#111">E</text>
<text transform="translate(251.30,328.00) scale(0.7846,1.0)" font-size="14.0" font-weight="bold" stroke="#111" stroke-width="0.3" fill="#111">(GeV)</text>
<text transform="translate(11.70,212.90) rotate(-90) scale(0.9009,0.9)" font-size="13.8" font-weight="bold" stroke="#111" stroke-width="0.3" font-style="italic" fill="#111">ν</text>
<text transform="translate(13.70,205.20) rotate(-90) scale(0.8455,0.9)" font-size="11.5" font-weight="bold" stroke="#111" stroke-width="0.3" font-style="italic" fill="#111">τ</text>
<text transform="translate(11.70,195.40) rotate(-90) scale(0.9913,0.9)" font-size="13.8" font-weight="bold" stroke="#111" stroke-width="0.3" fill="#111">Evts</text>
<text transform="translate(11.70,159.60) rotate(-90) scale(0.9983,0.9)" font-size="13.8" font-weight="bold" stroke="#111" stroke-width="0.3" fill="#111">(normalized)</text>
<text transform="translate(266.90,31.00) scale(0.7248,1.0)" font-size="13.5" stroke="#111" stroke-width="0.3" fill="#111">No</text>
<text transform="translate(284.20,31.00) scale(0.7656,1.0)" font-size="13.5" stroke="#111" stroke-width="0.3" fill="#111">Decay</text>
<text transform="translate(255.08,48.00) scale(0.8182,1.0)" font-size="13.5" stroke="#111" stroke-width="0.3" font-style="italic" fill="#111">β</text>
<text transform="translate(261.60,50.10) scale(0.6855,1.0)" font-size="9.2" stroke="#111" stroke-width="0.3" fill="#111">3</text>
<text transform="translate(265.70,48.00) scale(0.6711,1.0)" font-size="13.5" stroke="#111" stroke-width="0.3" fill="#111">=</text>
<text transform="translate(275.70,48.00) scale(0.6991,1.0)" font-size="13.5" stroke="#111" stroke-width="0.3" fill="#111">10</text>
<text transform="translate(287.60,42.10) scale(0.7411,1.0)" font-size="9.3" stroke="#111" stroke-width="0.3" fill="#111">−10</text>
<text transform="translate(303.80,48.00) scale(0.8222,1.0)" font-size="13.5" stroke="#111" stroke-width="0.3" fill="#111">s/eV</text>
<text transform="translate(246.48,65.00) scale(0.8430,1.0)" font-size="13.5" stroke="#111" stroke-width="0.3" font-style="italic" fill="#111">β</text>
<text transform="translate(253.20,67.10) scale(0.6659,1.0)" font-size="9.2" stroke="#111" stroke-width="0.3" fill="#111">3</text>
<text transform="translate(257.30,65.00) scale(0.6711,1.0)" font-size="13.5" stroke="#111" stroke-width="0.3" fill="#111">=</text>
<text transform="translate(266.00,65.00) scale(0.7875,1.0)" font-size="13.5" stroke="#111" stroke-width="0.3" fill="#111">5</text>
<text transform="translate(275.50,65.00) scale(0.7704,1.0)" font-size="13.5" stroke="#111" stroke-width="0.3" fill="#111">x</text>
<text transform="translate(284.70,65.00) scale(0.6792,1.0)" font-size="13.5" stroke="#111" stroke-width="0.3" fill="#111">10</text>
<text transform="translate(296.00,59.10) scale(0.7820,1.0)" font-size="9.3" stroke="#111" stroke-width="0.3" fill="#111">−11</text>
<text transform="translate(313.40,65.00) scale(0.7852,1.0)" font-size="13.5" stroke="#111" stroke-width="0.3" fill="#111">s/eV</text>
<text transform="translate(255.08,81.00) scale(0.8182,1.0)" font-size="13.5" stroke="#111" stroke-width="0.3" font-style="italic" fill="#111">β</text>
<text transform="translate(261.60,83.10) scale(0.6855,1.0)" font-size="9.2" stroke="#111" stroke-width="0.3" fill="#111">3</text>
<text transform="translate(265.70,81.00) scale(0.6711,1.0)" font-size="13.5" stroke="#111" stroke-width="0.3" fill="#111">=</text>
<text transform="translate(275.70,81.00) scale(0.6991,1.0)" font-size="13.5" stroke="#111" stroke-width="0.3" fill="#111">10</text>
<text transform="translate(287.60,75.10) scale(0.7754,1.0)" font-size="9.3" stroke="#111" stroke-width="0.3" fill="#111">−11</text>
<text transform="translate(303.80,81.00) scale(0.8222,1.0)" font-size="13.5" stroke="#111" stroke-width="0.3" fill="#111">s/eV</text>
<text transform="translate(246.48,98.00) scale(0.8430,1.0)" font-size="13.5" stroke="#111" stroke-width="0.3" font-style="italic" fill="#111">β</text>
<text transform="translate(253.20,100.10) scale(0.6659,1.0)" font-size="9.2" stroke="#111" stroke-width="0.3" fill="#111">3</text>
<text transform="translate(257.30,98.00) scale(0.6711,1.0)" font-size="13.5" stroke="#111" stroke-width="0.3" fill="#111">=</text>
<text transform="translate(266.00,98.00) scale(0.7875,1.0)" font-size="13.5" stroke="#111" stroke-width="0.3" fill="#111">2</text>
<text transform="translate(275.50,98.00) scale(0.7704,1.0)" font-size="13.5" stroke="#111" stroke-width="0.3" fill="#111">x</text>
<text transform="translate(284.70,98.00) scale(0.6792,1.0)" font-size="13.5" stroke="#111" stroke-width="0.3" fill="#111">10</text>
<text transform="translate(296.00,92.10) scale(0.7728,1.0)" font-size="9.3" stroke="#111" stroke-width="0.3" fill="#111">−12</text>
<text transform="translate(313.40,98.00) scale(0.7852,1.0)" font-size="13.5" stroke="#111" stroke-width="0.3" fill="#111">s/eV</text>
</g>
<path d="M344.3,25.7 H381.7" stroke="#c00000" stroke-width="1.4" fill="none"/>
<path d="M344.3,42.6 H381.7" stroke="#2a2aff" stroke-width="1.4" stroke-dasharray="6.8,4.2" fill="none"/>
<path d="M344.3,59.6 H381.7" stroke="#00a000" stroke-width="1.5" stroke-dasharray="1.7,2.6" fill="none"/>
<path d="M344.3,76.3 H381.7" stroke="#ff00ff" stroke-width="1.4" stroke-dasharray="1.2,3,8.3,3" fill="none"/>
<path d="M344.3,92.8 H381.7" stroke="#b0a926" stroke-width="1.45" stroke-dasharray="1.4,0.6" fill="none"/>
</svg></body></html>
